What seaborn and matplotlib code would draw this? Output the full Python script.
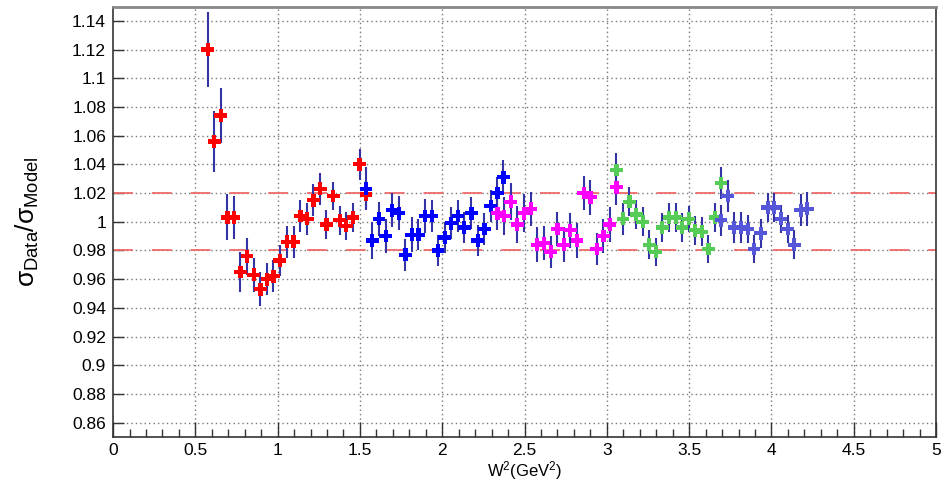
import numpy as np
import pandas as pd
import matplotlib
matplotlib.use("Agg")
import matplotlib.pyplot as plt
import seaborn as sns
from matplotlib.ticker import MultipleLocator, FuncFormatter

# ---------------- data ----------------
red_x = [0.575, 0.614, 0.654, 0.695, 0.735, 0.774, 0.814, 0.855, 0.895, 0.936,
         0.974, 1.013, 1.057, 1.097, 1.138, 1.179, 1.217, 1.258, 1.296, 1.337,
         1.377, 1.417, 1.458, 1.498, 1.537]
red_y = [1.120, 1.056, 1.074, 1.003, 1.003, 0.965, 0.976, 0.963, 0.953, 0.960,
         0.962, 0.973, 0.986, 0.986, 1.004, 1.002, 1.015, 1.023, 0.998, 1.018,
         1.001, 0.997, 1.003, 1.040, 1.019]
red_e = [0.026, 0.021, 0.019, 0.016, 0.015, 0.014, 0.013, 0.012, 0.012, 0.011,
         0.011, 0.011, 0.011, 0.011, 0.011, 0.011, 0.011, 0.011, 0.010, 0.010,
         0.010, 0.010, 0.010, 0.011, 0.010]

blue_x = [1.537, 1.575, 1.616, 1.657, 1.695, 1.736, 1.776, 1.815, 1.855, 1.895,
          1.936, 1.974, 2.015, 2.055, 2.096, 2.134, 2.177, 2.216, 2.256, 2.295,
          2.335, 2.372]
blue_y = [1.023, 0.987, 1.002, 0.990, 1.008, 1.006, 0.977, 0.991, 0.991, 1.004,
          1.004, 0.980, 0.989, 0.999, 1.004, 0.996, 1.006, 0.987, 0.995, 1.011,
          1.020, 1.031]
blue_e = [0.015, 0.013, 0.012, 0.012, 0.012, 0.012, 0.011, 0.012, 0.011, 0.012,
          0.011, 0.011, 0.011, 0.011, 0.011, 0.011, 0.011, 0.011, 0.011, 0.011,
          0.011, 0.012]

mag_x = [2.335, 2.376, 2.416, 2.456, 2.498, 2.539, 2.577, 2.618, 2.659, 2.700,
         2.739, 2.778, 2.819, 2.859, 2.900, 2.938, 2.979, 3.018, 3.058]
mag_y = [1.006, 1.004, 1.014, 0.998, 1.006, 1.009, 0.984, 0.985, 0.979, 0.995,
         0.984, 0.994, 0.987, 1.020, 1.017, 0.981, 0.990, 0.998, 1.024]
mag_e = [0.012, 0.013, 0.013, 0.013, 0.013, 0.012, 0.012, 0.012, 0.011, 0.012,
         0.012, 0.012, 0.012, 0.012, 0.012, 0.011, 0.012, 0.012, 0.012]

green_x = [3.058, 3.098, 3.137, 3.178, 3.218, 3.258, 3.297, 3.337, 3.378, 3.418,
           3.457, 3.497, 3.537, 3.576, 3.617, 3.657, 3.694]
green_y = [1.036, 1.002, 1.014, 1.005, 1.000, 0.984, 0.979, 0.996, 1.003, 1.003,
           0.996, 1.002, 0.994, 0.993, 0.981, 1.003, 1.027]
green_e = [0.012, 0.011, 0.010, 0.010, 0.010, 0.010, 0.010, 0.010, 0.010, 0.010,
           0.010, 0.009, 0.010, 0.010, 0.010, 0.010, 0.011]

slate_x = [3.694, 3.734, 3.773, 3.815, 3.856, 3.894, 3.935, 3.977, 4.017, 4.058,
           4.099, 4.139, 4.178, 4.218]
slate_y = [1.001, 1.018, 0.996, 0.996, 0.995, 0.981, 0.992, 1.010, 1.010, 1.002,
           0.995, 0.984, 1.008, 1.009]
slate_e = [0.011, 0.011, 0.011, 0.011, 0.010, 0.010, 0.010, 0.010, 0.010, 0.010,
           0.010, 0.010, 0.011, 0.012]

groups = ["r", "b", "m", "g", "s"]
colors = ["#ff0000", "#0000ff", "#ff00ff", "#55cc55", "#5656d8"]

y_ticks = [0.86, 0.88, 0.9, 0.92, 0.94, 0.96, 0.98, 1.0, 1.02, 1.04, 1.06,
           1.08, 1.1, 1.12, 1.14]
x_ticks = [0, 0.5, 1, 1.5, 2, 2.5, 3, 3.5, 4, 4.5, 5]
band = [0.98, 1.02]

frames = []
for g, xs, ys, es in zip(groups,
                         [red_x, blue_x, mag_x, green_x, slate_x],
                         [red_y, blue_y, mag_y, green_y, slate_y],
                         [red_e, blue_e, mag_e, green_e, slate_e]):
    frames.append(pd.DataFrame({"W2": xs, "ratio": ys, "err": es, "set": g}))
df = pd.concat(frames, ignore_index=True)

# ---------------- style ----------------
sns.set_theme(style="white")
plt.rcParams["font.family"] = ["Liberation Sans", "DejaVu Sans"]
plt.rcParams["mathtext.fontset"] = "custom"
plt.rcParams["mathtext.rm"] = "Liberation Sans"
plt.rcParams["mathtext.it"] = "Liberation Sans"
plt.rcParams["mathtext.sf"] = "Liberation Sans"
plt.rcParams["text.color"] = "black"
plt.rcParams["axes.labelcolor"] = "black"
plt.rcParams["xtick.color"] = "black"
plt.rcParams["ytick.color"] = "black"

fig = plt.figure(figsize=(9.46, 4.82), dpi=100)
ax = fig.add_axes([0.1195, 0.0934, 0.8700, 0.8931])

# grid
for xv in x_ticks[1:-1]:
    ax.axvline(xv, color="#777777", lw=1.0, ls=(0, (1, 2.2)), zorder=0)
for yv in y_ticks:
    ax.axhline(yv, color="#777777", lw=1.0, ls=(0, (1, 2.2)), zorder=0)

# red band lines
for yv in band:
    ax.axhline(yv, color="#f06a6a", lw=1.3, ls=(0, (11, 10.5)), zorder=1)

# error bars
ax.errorbar(df["W2"], df["ratio"], yerr=df["err"], fmt="none",
            ecolor="#3333a6", elinewidth=1.5, capsize=0, zorder=2)

# markers
sns.scatterplot(data=df, x="W2", y="ratio", hue="set", hue_order=groups,
                palette=colors, marker="P", s=85, linewidth=0,
                legend=False, ax=ax, zorder=3)

ax.set_xlim(0, 5)
ax.set_ylim(0.85, 1.15)

ax.xaxis.set_major_locator(MultipleLocator(0.5))
ax.xaxis.set_minor_locator(MultipleLocator(0.1))
ax.set_yticks(y_ticks)
fmt = FuncFormatter(lambda v, p: "%g" % round(v, 2))
ax.xaxis.set_major_formatter(fmt)
ax.yaxis.set_major_formatter(fmt)

ax.tick_params(axis="x", which="major", direction="in", length=11, width=1,
               color="#333333", labelsize=12.5, pad=4, bottom=True, top=False)
ax.tick_params(axis="x", which="minor", direction="in", length=6, width=1,
               color="#333333", bottom=True, top=False)
ax.tick_params(axis="y", which="major", direction="in", length=8, width=1,
               color="#333333", labelsize=12.5, pad=5, left=True, right=False)

for side in ["left", "bottom", "right"]:
    ax.spines[side].set_color("#333333")
    ax.spines[side].set_linewidth(1.2)
ax.spines["top"].set_color("#888888")
ax.spines["top"].set_linewidth(2.0)

ax.set_xlabel(r"W$^{2}$(GeV$^{2}$)", fontsize=12, labelpad=1)
ax.set_ylabel(r"$\sigma_{\mathrm{Data}}/\sigma_{\mathrm{Model}}$", fontsize=19)
ax.yaxis.set_label_coords(-0.088, 0.5)

fig.savefig("out.png", dpi=100)
